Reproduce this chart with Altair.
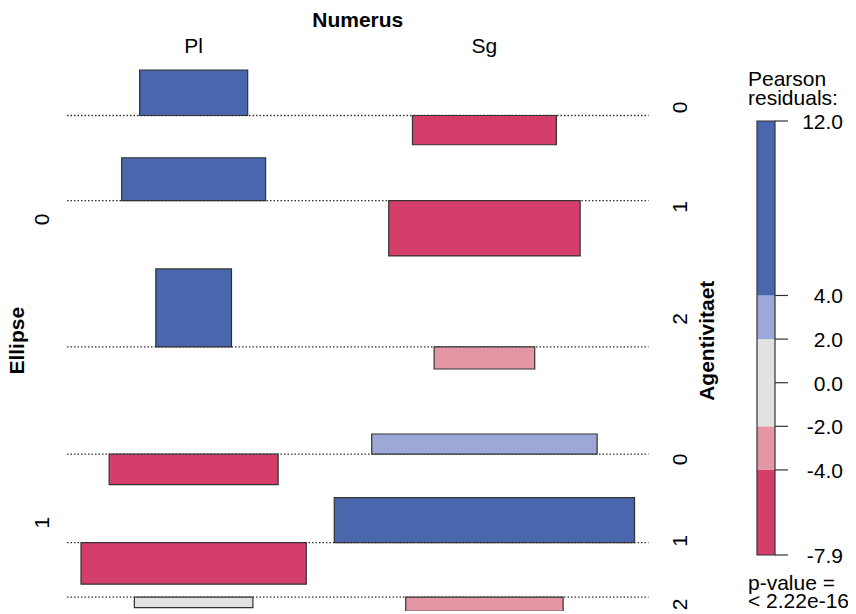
import math
import altair as alt
import pandas as pd

# ---------------- data ----------------
numerus = ["Pl", "Sg"]
ellipse = ["0", "0", "0", "1", "1", "1"]
agentivitaet = ["0", "1", "2", "0", "1", "2"]
# Pearson residuals per (Ellipse, Agentivitaet) row, for Pl and Sg
resid_pl = [7.0, 6.6, 12.0, -4.7, -6.4, -1.6]
resid_sg = [-4.5, -8.5, -3.4, 3.1, 6.9, -2.2]
# expected frequencies (bar width ~ sqrt(expected))
expected_pl = [467, 829, 229, 1142, 2030, 562]
expected_sg = [829, 1466, 405, 2032, 3607, 991]

legend_ticks = [12.0, 4.0, 2.0, 0.0, -2.0, -4.0, -7.9]
legend_breaks = [-7.9, -4.0, -2.0, 2.0, 4.0, 12.0]
legend_title = ["Pearson", "residuals:"]
p_value_text = ["p-value =", "< 2.22e-16"]

shade_cuts = [-4, -2, 2, 4]
shade_colors = ["#D33F6A", "#E496A5", "#E2E2E2", "#9EA8D6", "#4A66AC"]

# ---------------- layout constants ----------------
W, H = 840, 603
SX = 5.0        # px per sqrt(expected) unit
SY = 6.5        # px per residual unit
PAD_X = 2.8     # column padding (sqrt units)
GAP_IN = 2.0    # gap between rows (residual units)
GAP_GROUP = 10.0
LEFT_PX = 59
TOP_PX = 62
FONT = "Liberation Sans"
STROKE = "#333333"

# ---------------- derived geometry ----------------
resid = {"Pl": resid_pl, "Sg": resid_sg}
expct = {"Pl": expected_pl, "Sg": expected_sg}
colmax = [max(math.sqrt(v) for v in expct[c]) for c in numerus]
col_start = [0.0, 2 * PAD_X + colmax[0]]
col_center = [col_start[i] + PAD_X + colmax[i] / 2 for i in range(2)]
line_end = col_start[1] + 2 * PAD_X + colmax[1]

rows = []
top = 0.0
for i in range(len(agentivitaet)):
    vals = [resid_pl[i], resid_sg[i]]
    maxpos = max(0.0, max(vals))
    maxneg = max(0.0, -min(vals))
    base = top + maxpos
    bottom = base + maxneg
    rows.append(dict(ellipse=ellipse[i], agent=agentivitaet[i], top=top,
                     base=base, bottom=bottom, center=(top + bottom) / 2,
                     x0=0.0, x1=line_end))
    if i + 1 < len(agentivitaet):
        top = bottom + (GAP_GROUP if ellipse[i + 1] != ellipse[i] else GAP_IN)
rows_df = pd.DataFrame(rows)

bars = []
for i, r in enumerate(rows):
    for j, c in enumerate(numerus):
        w = math.sqrt(expct[c][i])
        res = resid[c][i]
        bars.append(dict(numerus=c, x=col_center[j] - w / 2, x2=col_center[j] + w / 2,
                         y=r["base"] - res, y2=r["base"], residual=res))
bars_df = pd.DataFrame(bars)

groups = []
for g in ["0", "1"]:
    sub = rows_df[rows_df.ellipse == g]
    groups.append(dict(label=g, center=(sub.top.min() + sub.bottom.max()) / 2))
groups_df = pd.DataFrame(groups)

plot_mid = (rows_df.top.min() + rows_df.bottom.max()) / 2

xs = alt.Scale(domain=[-LEFT_PX / SX, (W - LEFT_PX) / SX], nice=False, zero=False)
ys = alt.Scale(domain=[-TOP_PX / SY, (H - TOP_PX) / SY], nice=False, zero=False, reverse=True)
cs = alt.Scale(type="threshold", domain=shade_cuts, range=shade_colors)

X = lambda f: alt.X(f, type="quantitative", scale=xs, axis=None)
Y = lambda f: alt.Y(f, type="quantitative", scale=ys, axis=None)

rules = alt.Chart(rows_df).mark_rule(strokeDash=[1.5, 2], strokeWidth=1.3, color=STROKE).encode(
    x=X("x0"), x2="x1", y=Y("base"))

rects = alt.Chart(bars_df).mark_rect(stroke=STROKE, strokeWidth=1.2).encode(
    x=X("x"), x2="x2", y=Y("y"), y2="y2",
    color=alt.Color("residual:Q", scale=cs, legend=None))

col_df = pd.DataFrame({"label": numerus, "cx": col_center})
col_labels = alt.Chart(col_df).mark_text(font=FONT, fontSize=21, baseline="alphabetic", color="black").encode(
    x=X("cx"), y=alt.value(45), text="label:N")

title_df = pd.DataFrame({"label": ["Numerus"], "cx": [line_end / 2]})
top_title = alt.Chart(title_df).mark_text(font=FONT, fontSize=21, fontWeight="bold", baseline="alphabetic", color="black").encode(
    x=X("cx"), y=alt.value(19), text="label:N")

row_labels = alt.Chart(rows_df).mark_text(font=FONT, fontSize=21, angle=270, baseline="middle", align="center", color="black").encode(
    x=alt.value(672.5), y=Y("center"), text="agent:N")

grp_labels = alt.Chart(groups_df).mark_text(font=FONT, fontSize=21, angle=270, baseline="middle", align="center", color="black").encode(
    x=alt.value(35), y=Y("center"), text="label:N")


def side_title(label, px):
    df = pd.DataFrame({"label": [label], "mid": [plot_mid]})
    return alt.Chart(df).mark_text(font=FONT, fontSize=21, fontWeight="bold", angle=270,
                                   baseline="middle", align="center", color="black").encode(
        x=alt.value(px), y=Y("mid"), text="label:N")


main = alt.layer(rules, rects, col_labels, top_title, row_labels, grp_labels,
                 side_title("Ellipse", 10), side_title("Agentivitaet", 700))

# ---------------- legend ----------------
SL = 434 / (legend_breaks[-1] - legend_breaks[0])   # px per residual unit
L_TOP = 113                                         # chart px of the top value
l_hi = legend_breaks[-1] + L_TOP / SL
l_lo = l_hi - H / SL
ls = alt.Scale(domain=[l_lo, l_hi], nice=False, zero=False)
LY = lambda f: alt.Y(f, type="quantitative", scale=ls, axis=None)

seg_df = pd.DataFrame({"lo": legend_breaks[:-1], "hi": legend_breaks[1:]})
seg_df["mid"] = (seg_df.lo + seg_df.hi) / 2
segs = alt.Chart(seg_df).mark_rect().encode(
    x=alt.value(749), x2=alt.value(767), y=LY("lo"), y2="hi",
    color=alt.Color("mid:Q", scale=cs, legend=None))
frame_df = pd.DataFrame({"lo": [legend_breaks[0]], "hi": [legend_breaks[-1]]})
frame = alt.Chart(frame_df).mark_rect(fillOpacity=0, stroke=STROKE, strokeWidth=1.2).encode(
    x=alt.value(749), x2=alt.value(767), y=LY("lo"), y2="hi")
tick_df = pd.DataFrame({"v": legend_ticks, "label": [f"{v:.1f}" for v in legend_ticks]})
ticks = alt.Chart(tick_df).mark_rule(color=STROKE, strokeWidth=1.2).encode(
    x=alt.value(767), x2=alt.value(780), y=LY("v"))
tick_labels = alt.Chart(tick_df).mark_text(font=FONT, fontSize=21, align="right", baseline="middle", dy=2, color="black").encode(
    x=alt.value(835), y=LY("v"), text="label:N")


def head_text(t, py):
    df = pd.DataFrame({"t": [t]})
    return alt.Chart(df).mark_text(font=FONT, fontSize=21, align="left", baseline="alphabetic",
                                   color="black").encode(
        x=alt.value(740), y=alt.value(py), text="t:N")


heads = alt.layer(head_text(legend_title[0], 78), head_text(legend_title[1], 97),
                  head_text(p_value_text[0], 582), head_text(p_value_text[1], 600))

legend = alt.layer(segs, frame, ticks, tick_labels, heads)

chart = alt.layer(main, legend).resolve_scale(y="independent", color="shared").properties(
    width=W, height=H, padding=0, autosize=alt.AutoSizeParams(type="none")
).configure_view(stroke=None)

chart.save("out.html", embed_options={"renderer": "svg", "actions": False})
